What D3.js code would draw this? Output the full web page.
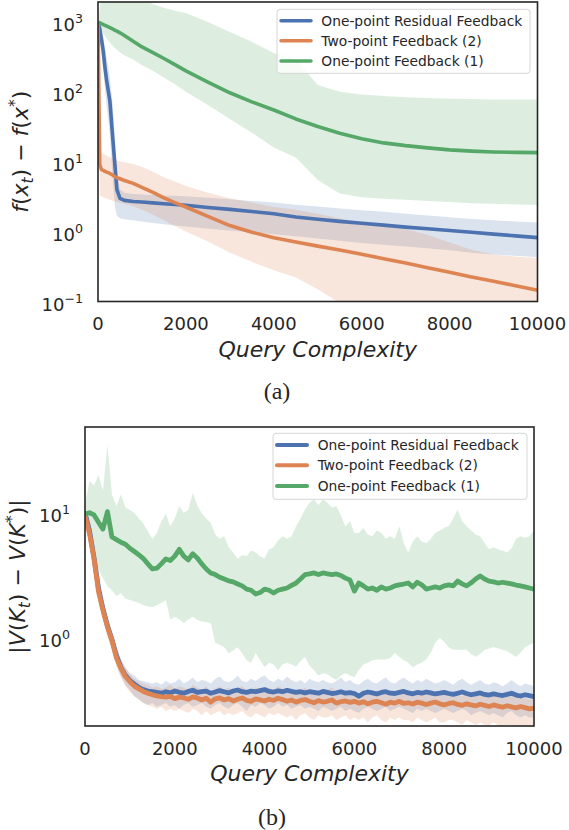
<!DOCTYPE html>
<html>
<head>
<meta charset="utf-8">
<script src="https://cdn.jsdelivr.net/npm/d3@7"></script>
<style>
  html, body { margin: 0; padding: 0; background: #fff; }
  svg text { font-family: "DejaVu Sans", sans-serif; fill: #262626; }
</style>
</head>
<body>
<div id="chart"></div>
<script>
"use strict";

// ---- shared ----
var seriesNames = ['One-point Residual Feedback', 'Two-point Feedback (2)', 'One-point Feedback (1)'];
var seriesColors = ['#4c72b0', '#dd8452', '#55a868'];
var xTicks = [0, 2000, 4000, 6000, 8000, 10000];

// ---- panel (a): query counts and f(x_t) - f(x*) ----
var tA = [0, 40, 80, 120, 160, 200, 270, 340, 390, 430, 500, 600, 800, 1000, 1250, 1500, 1750, 2000,
  2500, 3000, 3500, 4000, 4500, 5000, 5500, 6000, 6500, 7000, 7500, 8000, 8500, 9000, 9500, 10000];

var blueA   = [1000, 800, 560, 380, 220, 140, 74, 20, 8.2, 4.0, 3.0, 2.8, 2.7, 2.66, 2.58, 2.5, 2.44, 2.38,
  2.22, 2.08, 1.94, 1.8, 1.62, 1.5, 1.4, 1.32, 1.24, 1.16, 1.1, 1.04, 0.98, 0.92, 0.87, 0.82];
var blueHiA = [1000, 950, 800, 600, 420, 300, 160, 60, 20, 7, 4.0, 3.6, 3.45, 3.4, 3.35, 3.3, 3.25, 3.2,
  3.05, 2.9, 2.75, 2.6, 2.42, 2.28, 2.15, 2.03, 1.92, 1.8, 1.7, 1.6, 1.52, 1.45, 1.4, 1.35];
var blueLoA = [1000, 600, 350, 200, 110, 60, 25, 5, 2.2, 1.7, 1.55, 1.5, 1.45, 1.4, 1.33, 1.27, 1.22, 1.18,
  1.1, 1.04, 0.98, 0.92, 0.86, 0.8, 0.74, 0.69, 0.65, 0.61, 0.58, 0.54, 0.5, 0.47, 0.45, 0.43];

var orangeA   = [1000, 9.0, 7.7, 7.5, 7.3, 7.1, 6.8, 6.4, 6.1, 5.9, 5.7, 5.4, 4.9, 4.3, 3.65, 3.05, 2.6, 2.25,
  1.65, 1.22, 0.98, 0.82, 0.71, 0.62, 0.545, 0.475, 0.41, 0.355, 0.305, 0.263, 0.225, 0.195, 0.168, 0.145];
var orangeHiA = [1000, 14, 13.5, 13, 12.6, 12.2, 11.6, 11, 10.7, 10.5, 10.2, 9.8, 9.3, 8.5, 7.2, 6.0, 5.2, 4.5,
  3.6, 3.0, 2.6, 2.25, 2.05, 1.8, 1.55, 1.35, 1.2, 1.08, 0.9, 0.7, 0.55, 0.47, 0.44, 0.42];
var orangeLoA = [1000, 3.3, 3.2, 3.1, 3.0, 2.95, 2.85, 2.75, 2.7, 2.65, 2.6, 2.5, 2.3, 2.05, 1.75, 1.45, 1.2, 1.0,
  0.72, 0.5, 0.37, 0.28, 0.22, 0.15, 0.095, 0.07, 0.06, 0.05, 0.045, 0.04, 0.035, 0.03, 0.03, 0.03];

var greenA   = [1000, 970, 945, 920, 895, 870, 830, 790, 760, 740, 700, 640, 530, 440, 365, 300, 245, 200,
  138, 97, 72, 55, 41, 32, 25.5, 21.4, 18.6, 17, 15.8, 14.8, 14.2, 13.8, 13.6, 13.5];
var greenHiA = [1000, 1600, 2400, 3000, 3000, 3000, 3000, 3000, 3000, 3000, 3000, 3000, 3000, 2300, 1800, 1600, 1450, 1350,
  1000, 720, 520, 360, 290, 125, 100, 92, 87, 84, 82, 80, 79, 78, 78, 78];
var greenLoA = [1000, 850, 760, 690, 630, 580, 510, 450, 420, 400, 370, 335, 290, 240, 200, 160, 128, 100,
  65, 41, 26, 16, 11.5, 5.5, 3.5, 3.1, 2.95, 2.85, 2.75, 2.65, 2.55, 2.5, 2.45, 2.4];

// ---- panel (b): |V(K_t) - V(K*)| every 100 queries ----
var tB = d3.range(0, 10001, 100);

var blueB = [10.0, 7.2, 4.4, 2.5, 1.7, 1.25, 0.97, 0.72, 0.58, 0.5,
  0.455, 0.425, 0.4, 0.385, 0.375, 0.37, 0.365, 0.36, 0.37, 0.362,
  0.375, 0.366, 0.36, 0.372, 0.38, 0.365, 0.37, 0.374, 0.36, 0.368,
  0.378, 0.37, 0.362, 0.375, 0.382, 0.37, 0.366, 0.374, 0.37, 0.378,
  0.385, 0.372, 0.368, 0.376, 0.37, 0.38, 0.372, 0.365, 0.37, 0.362,
  0.37, 0.366, 0.36, 0.372, 0.365, 0.358, 0.362, 0.37, 0.36, 0.364,
  0.358, 0.34, 0.36, 0.368, 0.362, 0.355, 0.365, 0.37, 0.36, 0.358,
  0.366, 0.372, 0.362, 0.356, 0.365, 0.36, 0.368, 0.362, 0.355, 0.36,
  0.366, 0.358, 0.352, 0.36, 0.368, 0.358, 0.35, 0.356, 0.362, 0.352,
  0.348, 0.356, 0.35, 0.345, 0.352, 0.36, 0.348, 0.342, 0.35, 0.344,
  0.338];
var blueHiB = [11.0, 8.0, 5.0, 2.9, 2.0, 1.45, 1.12, 0.84, 0.68, 0.58,
  0.52, 0.5, 0.46, 0.45, 0.44, 0.43, 0.44, 0.42, 0.45, 0.43,
  0.44, 0.47, 0.43, 0.45, 0.48, 0.44, 0.46, 0.45, 0.43, 0.47,
  0.49, 0.45, 0.44, 0.46, 0.5, 0.45, 0.44, 0.47, 0.45, 0.48,
  0.5, 0.46, 0.44, 0.47, 0.45, 0.49, 0.46, 0.44, 0.46, 0.43,
  0.47, 0.45, 0.44, 0.46, 0.44, 0.43, 0.45, 0.48, 0.44, 0.46,
  0.43, 0.42, 0.45, 0.47, 0.44, 0.43, 0.46, 0.48, 0.44, 0.43,
  0.46, 0.48, 0.45, 0.43, 0.46, 0.44, 0.47, 0.45, 0.43, 0.44,
  0.46, 0.44, 0.42, 0.45, 0.47, 0.44, 0.42, 0.44, 0.46, 0.43,
  0.42, 0.44, 0.43, 0.41, 0.43, 0.46, 0.43, 0.41, 0.43, 0.42,
  0.41];
var blueLoB = [9.0, 6.5, 3.9, 2.2, 1.45, 1.05, 0.82, 0.62, 0.49, 0.42,
  0.38, 0.34, 0.32, 0.3, 0.29, 0.3, 0.28, 0.29, 0.3, 0.28,
  0.29, 0.27, 0.29, 0.3, 0.28, 0.29, 0.3, 0.28, 0.27, 0.29,
  0.3, 0.28, 0.27, 0.29, 0.3, 0.28, 0.26, 0.29, 0.28, 0.3,
  0.29, 0.27, 0.28, 0.3, 0.28, 0.29, 0.27, 0.28, 0.29, 0.27,
  0.28, 0.27, 0.26, 0.28, 0.27, 0.26, 0.27, 0.28, 0.26, 0.27,
  0.26, 0.25, 0.27, 0.28, 0.27, 0.26, 0.27, 0.28, 0.26, 0.27,
  0.28, 0.27, 0.26, 0.25, 0.27, 0.26, 0.27, 0.26, 0.25, 0.26,
  0.27, 0.26, 0.25, 0.26, 0.27, 0.26, 0.24, 0.25, 0.26, 0.25,
  0.24, 0.25, 0.24, 0.23, 0.25, 0.26, 0.24, 0.23, 0.24, 0.23,
  0.23];

var orangeB = [9.6, 6.8, 4.27, 2.35, 1.65, 1.22, 0.95, 0.69, 0.57, 0.49,
  0.445, 0.41, 0.39, 0.372, 0.36, 0.35, 0.342, 0.338, 0.335, 0.34,
  0.326, 0.335, 0.33, 0.322, 0.336, 0.33, 0.318, 0.328, 0.305, 0.325,
  0.33, 0.318, 0.326, 0.312, 0.322, 0.33, 0.316, 0.31, 0.324, 0.318,
  0.312, 0.322, 0.315, 0.328, 0.32, 0.31, 0.318, 0.305, 0.315, 0.32,
  0.31, 0.302, 0.314, 0.306, 0.31, 0.318, 0.3, 0.308, 0.312, 0.304,
  0.31, 0.3, 0.308, 0.296, 0.305, 0.31, 0.302, 0.294, 0.305, 0.3,
  0.31, 0.298, 0.302, 0.295, 0.305, 0.3, 0.292, 0.3, 0.306, 0.296,
  0.29, 0.298, 0.302, 0.293, 0.288, 0.296, 0.29, 0.285, 0.294, 0.288,
  0.282, 0.29, 0.284, 0.278, 0.286, 0.28, 0.275, 0.282, 0.276, 0.27,
  0.274];
var orangeHiB = [10.5, 7.5, 4.8, 2.7, 1.9, 1.4, 1.08, 0.8, 0.66, 0.57,
  0.51, 0.47, 0.45, 0.43, 0.42, 0.4, 0.41, 0.39, 0.4, 0.42,
  0.39, 0.41, 0.4, 0.38, 0.42, 0.4, 0.38, 0.41, 0.37, 0.39,
  0.41, 0.38, 0.4, 0.37, 0.39, 0.41, 0.38, 0.37, 0.4, 0.39,
  0.37, 0.4, 0.38, 0.41, 0.39, 0.37, 0.39, 0.36, 0.38, 0.4,
  0.37, 0.36, 0.38, 0.37, 0.38, 0.4, 0.36, 0.37, 0.38, 0.36,
  0.37, 0.36, 0.38, 0.35, 0.37, 0.38, 0.36, 0.35, 0.37, 0.36,
  0.38, 0.36, 0.37, 0.35, 0.37, 0.36, 0.35, 0.36, 0.37, 0.35,
  0.35, 0.36, 0.37, 0.35, 0.34, 0.36, 0.35, 0.34, 0.35, 0.34,
  0.34, 0.35, 0.34, 0.33, 0.34, 0.34, 0.33, 0.34, 0.33, 0.32,
  0.33];
var orangeLoB = [8.8, 6.1, 3.7, 2.0, 1.4, 1.03, 0.8, 0.58, 0.48, 0.41,
  0.37, 0.34, 0.32, 0.3, 0.29, 0.28, 0.27, 0.28, 0.26, 0.27,
  0.26, 0.27, 0.26, 0.25, 0.27, 0.26, 0.24, 0.26, 0.24, 0.25,
  0.26, 0.24, 0.25, 0.24, 0.25, 0.26, 0.24, 0.23, 0.25, 0.24,
  0.23, 0.25, 0.24, 0.25, 0.24, 0.23, 0.24, 0.22, 0.24, 0.25,
  0.23, 0.22, 0.24, 0.23, 0.23, 0.24, 0.22, 0.23, 0.24, 0.22,
  0.23, 0.22, 0.23, 0.21, 0.23, 0.24, 0.22, 0.21, 0.23, 0.22,
  0.23, 0.22, 0.22, 0.21, 0.23, 0.22, 0.21, 0.22, 0.23, 0.21,
  0.21, 0.22, 0.22, 0.21, 0.2, 0.22, 0.21, 0.2, 0.21, 0.2,
  0.2, 0.21, 0.2, 0.19, 0.2, 0.2, 0.19, 0.2, 0.19, 0.19,
  0.19];

var greenB = [9.8, 10.0, 9.6, 8.4, 7.4, 10.2, 6.4, 6.1, 5.8, 5.6,
  5.2, 4.9, 4.6, 4.3, 3.9, 3.55, 3.6, 3.9, 4.27, 4.15,
  4.5, 5.1, 4.5, 4.2, 4.7, 4.35, 3.9, 3.55, 3.3, 3.2,
  3.05, 2.95, 2.85, 2.8, 2.69, 2.6, 2.45, 2.4, 2.24, 2.3,
  2.45, 2.4, 2.28, 2.4, 2.45, 2.5, 2.62, 2.74, 2.95, 3.2,
  3.24, 3.3, 3.2, 3.3, 3.25, 3.2, 3.24, 3.15, 3.0, 2.9,
  2.36, 2.74, 2.6, 2.45, 2.5, 2.4, 2.55, 2.45, 2.5, 2.6,
  2.65, 2.69, 2.74, 2.55, 2.78, 2.65, 2.45, 2.5, 2.55, 2.5,
  2.6, 2.65, 2.6, 2.84, 2.7, 2.6, 2.75, 2.95, 3.12, 2.95,
  2.84, 2.8, 2.74, 2.78, 2.74, 2.7, 2.64, 2.6, 2.55, 2.5,
  2.45];
var greenHiB = [11.5, 18, 16.5, 20, 15, 35, 14, 11.3, 14, 11,
  10.5, 10, 9, 8.2, 7.1, 6.2, 6.9, 8.5, 9.8, 7.8,
  9, 11.3, 10, 10.5, 14.4, 11.5, 9.9, 9, 8.3, 6.7,
  6.2, 6.5, 5.3, 4.8, 4.27, 4.6, 4.5, 5.0, 4.8, 4.5,
  4.3, 5.1, 5.3, 6.0, 6.5, 6.2, 6.5, 7.8, 9, 10.6,
  12, 12.8, 11.5, 12.8, 12, 11, 11.3, 9.5, 7.8, 8.6,
  6.9, 6.9, 7.6, 6.7, 6.5, 7.2, 6.9, 6.2, 6.5, 6.2,
  7.8, 5.7, 4.8, 5.9, 6.5, 5.9, 5.7, 6.2, 6.9, 7.2,
  7.6, 7.8, 9, 10.6, 8.6, 7.8, 7.2, 6.7, 6.5, 5.7,
  5.1, 5.3, 5.1, 5.0, 4.8, 5.2, 6.2, 6.5, 6.3, 6.5,
  7.2];
var greenLoB = [9.0, 6.2, 4.5, 3.5, 3.0, 2.6, 2.4, 2.15, 2.28, 2.05,
  2.0, 1.95, 1.9, 1.82, 1.78, 1.76, 1.82, 1.9, 2.0, 1.4,
  1.47, 1.4, 1.31, 1.4, 1.47, 1.39, 1.35, 1.33, 1.31, 0.91,
  0.88, 0.84, 0.75, 0.79, 0.84, 0.75, 0.66, 0.63, 0.755, 0.66,
  0.58, 0.63, 0.61, 0.55, 0.61, 0.63, 0.61, 0.59, 0.65, 0.7,
  0.6, 0.55, 0.5, 0.52, 0.51, 0.48, 0.46, 0.5, 0.52, 0.5,
  0.485, 0.55, 0.61, 0.63, 0.66, 0.67, 0.67, 0.67, 0.69, 0.755,
  0.7, 0.66, 0.63, 0.58, 0.61, 0.63, 0.67, 0.76, 0.91, 1.0,
  0.93, 0.84, 0.8, 0.8, 0.8, 0.8, 0.74, 0.7, 0.74, 0.8,
  0.82, 0.84, 0.82, 0.8, 0.78, 0.74, 0.7, 0.76, 0.84, 0.88,
  0.91];

var width = 569, height = 830;

var svg = d3.select('#chart').append('svg')
  .attr('width', width)
  .attr('height', height);

// writes 10^k the way mathtext does
function powLabel(text, k){
  text.append('tspan').text('10');
  text.append('tspan')
    .attr('dy', -8)
    .attr('font-size', 12.6)
    .text(k < 0 ? '\u2212' + (-k) : k);
}

// parts: [string, kind] with kind '', 'i' (italic), 'sub', 'sup'
function mathText(text, parts){
  var shift = 0;
  parts.forEach(function(p){
    var want = p[1] === 'sub' ? 5 : (p[1] === 'sup' ? -8 : 0);
    var ts = text.append('tspan').text(p[0]).attr('dy', want - shift);
    shift = want;
    if(p[1] === 'i' || p[1] === 'sub') ts.attr('font-style', 'italic');
    if(p[1] === 'sub' || p[1] === 'sup') ts.attr('font-size', '0.7em');
  });
}

function drawPanel(p){
  var x = d3.scaleLinear().domain([0, 10000]).range([p.left, p.right]);
  var y = d3.scaleLog().domain(p.yDomain).range([p.bottom, p.top]);

  var g = svg.append('g');
  var clipId = 'clip-' + p.id;
  svg.append('clipPath').attr('id', clipId)
    .append('rect')
      .attr('x', p.left).attr('y', p.top)
      .attr('width', p.right - p.left).attr('height', p.bottom - p.top);

  var plot = g.append('g').attr('clip-path', 'url(#' + clipId + ')');

  // bands sit under every line
  p.series.forEach(function(s, i){
    var area = d3.area()
      .x(function(d, j){ return x(p.t[j]); })
      .y0(function(d, j){ return y(s.lo[j]); })
      .y1(function(d, j){ return y(s.hi[j]); });
    plot.append('path')
      .attr('d', area(s.mean))
      .attr('fill', seriesColors[i])
      .attr('fill-opacity', 0.2);
  });

  p.series.forEach(function(s, i){
    var line = d3.line()
      .x(function(d, j){ return x(p.t[j]); })
      .y(function(d){ return y(d); });
    plot.append('path')
      .attr('d', line(s.mean))
      .attr('fill', 'none')
      .attr('stroke', seriesColors[i])
      .attr('stroke-width', p.lineWidth)
      .attr('stroke-linejoin', 'round');
  });

  // frame
  g.append('rect')
    .attr('x', p.left).attr('y', p.top)
    .attr('width', p.right - p.left).attr('height', p.bottom - p.top)
    .attr('fill', 'none')
    .attr('stroke', '#262626')
    .attr('stroke-width', 1.6);

  // x tick labels
  g.selectAll('.xtick').data(xTicks).enter().append('text')
    .attr('class', 'xtick')
    .attr('x', function(d){ return x(d); })
    .attr('y', p.xTickY)
    .attr('text-anchor', 'middle')
    .attr('font-size', 18)
    .text(function(d){ return d; });

  // y tick labels
  p.yTicks.forEach(function(k){
    var t = g.append('text')
      .attr('x', p.left - 15)
      .attr('y', y(Math.pow(10, k)) + 9)
      .attr('text-anchor', 'end')
      .attr('font-size', 18);
    powLabel(t, k);
  });

  g.append('text')
    .attr('x', (p.left + p.right) / 2)
    .attr('y', p.xLabelY)
    .attr('text-anchor', 'middle')
    .attr('font-size', 22)
    .attr('font-style', 'italic')
    .text('Query Complexity');

  var yl = g.append('text')
    .attr('transform', 'translate(' + p.yLabelX + ',' + ((p.top + p.bottom) / 2) + ') rotate(-90)')
    .attr('text-anchor', 'middle')
    .attr('font-size', 22);
  mathText(yl, p.yLabel);

  g.append('text')
    .attr('x', p.captionX)
    .attr('y', p.captionY)
    .attr('text-anchor', 'middle')
    .attr('font-size', 24)
    .style('font-family', '"Liberation Serif", serif')
    .text(p.caption);

  // legend
  var lg = p.legend;
  g.append('rect')
    .attr('x', lg.x).attr('y', lg.y)
    .attr('width', lg.w).attr('height', lg.h)
    .attr('rx', 3)
    .attr('fill', '#fff').attr('fill-opacity', 0.8)
    .attr('stroke', '#d6d6d6').attr('stroke-width', 1);
  seriesNames.forEach(function(name, i){
    var cy = lg.rows[i];
    g.append('line')
      .attr('x1', lg.x0).attr('x2', lg.x1)
      .attr('y1', cy).attr('y2', cy)
      .attr('stroke', seriesColors[i])
      .attr('stroke-width', lg.lineWidth)
      .attr('stroke-linecap', 'round');
    g.append('text')
      .attr('x', lg.textX)
      .attr('y', cy + 5)
      .attr('font-size', 13.8)
      .text(name);
  });
}

drawPanel({
  id: 'a',
  left: 98, right: 537.5, top: 2, bottom: 301.5,
  yDomain: [0.1, Math.pow(10, 3.286)],
  yTicks: [-1, 0, 1, 2, 3],
  t: tA,
  series: [
    {mean: blueA, lo: blueLoA, hi: blueHiA},
    {mean: orangeA, lo: orangeLoA, hi: orangeHiA},
    {mean: greenA, lo: greenLoA, hi: greenHiA}
  ],
  lineWidth: 3.6,
  xTickY: 330,
  xLabelY: 357,
  yLabelX: 28,
  yLabel: [['f', 'i'], ['(', ''], ['x', 'i'], ['t', 'sub'], [') \u2212 ', ''], ['f', 'i'], ['(', ''], ['x', 'i'], ['*', 'sup'], [')', '']],
  caption: '(a)', captionX: 277, captionY: 399,
  legend: {x: 277, y: 9.3, w: 253, h: 64, rows: [20.7, 40.7, 61], x0: 281, x1: 311, textX: 321.3, lineWidth: 3.5}
});

drawPanel({
  id: 'b',
  left: 85, right: 534, top: 427, bottom: 726,
  yDomain: [Math.pow(10, -0.706), Math.pow(10, 1.686)],
  yTicks: [0, 1],
  t: tB,
  series: [
    {mean: blueB, lo: blueLoB, hi: blueHiB},
    {mean: orangeB, lo: orangeLoB, hi: orangeHiB},
    {mean: greenB, lo: greenLoB, hi: greenHiB}
  ],
  lineWidth: 4.8,
  xTickY: 755,
  xLabelY: 781,
  yLabelX: 25,
  yLabel: [['|', ''], ['V', 'i'], ['(', ''], ['K', 'i'], ['t', 'sub'], [') \u2212 ', ''], ['V', 'i'], ['(', ''], ['K', 'i'], ['*', 'sup'], [')|', '']],
  caption: '(b)', captionX: 272, captionY: 825,
  legend: {x: 273, y: 433.3, w: 254, h: 66, rows: [445, 465.3, 486], x0: 277, x1: 307, textX: 317.7, lineWidth: 4}
});
</script>
</body>
</html>
